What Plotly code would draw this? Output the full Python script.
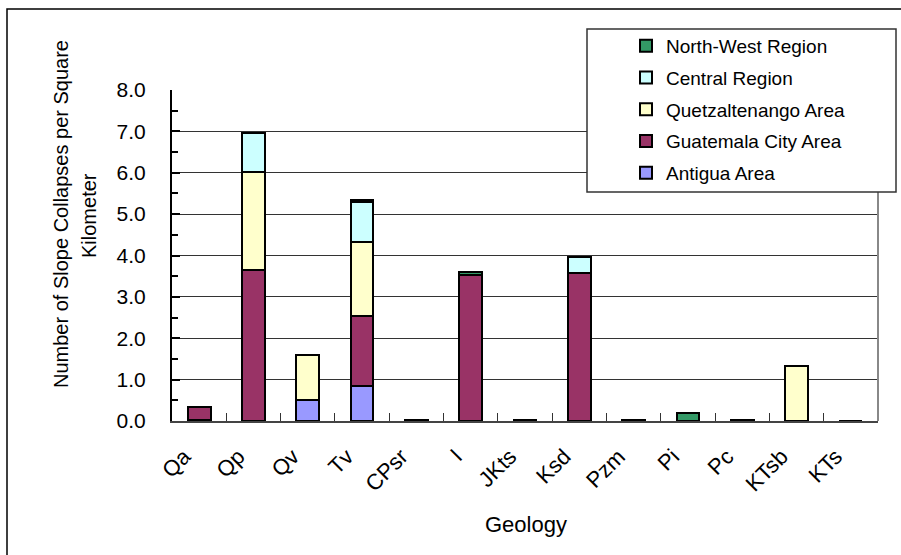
import plotly.graph_objects as go

# Geology units along the x axis
categories = ["Qa", "Qp", "Qv", "Tv", "CPsr", "I", "JKts", "Ksd", "Pzm", "Pi", "Pc", "KTsb", "KTs"]

# Slope collapses per square kilometre, by survey area (stacked bottom to top)
antigua = [0.03, 0, 0.50, 0.85, 0, 0, 0, 0, 0, 0, 0, 0, 0]
guatemala_city = [0.30, 3.65, 0, 1.69, 0, 3.54, 0, 3.57, 0, 0, 0, 0, 0]
quetzaltenango = [0, 2.37, 1.09, 1.78, 0, 0, 0, 0, 0, 0, 0, 1.34, 0]
central = [0, 0.93, 0, 0.98, 0, 0, 0, 0.40, 0, 0, 0, 0, 0]
north_west = [0, 0, 0, 0.03, 0.02, 0.05, 0.02, 0, 0.03, 0.20, 0.02, 0, 0]

series = [
    ("Antigua Area", antigua, "#9999FF"),
    ("Guatemala City Area", guatemala_city, "#993366"),
    ("Quetzaltenango Area", quetzaltenango, "#FFFFCC"),
    ("Central Region", central, "#CCFFFF"),
    ("North-West Region", north_west, "#339966"),
]

FONT = "Liberation Sans, Arial, sans-serif"

fig = go.Figure()
n = len(series)
for i, (name, vals, color) in enumerate(series):
    fig.add_trace(go.Bar(
        x=categories, y=vals, name=name, legendgroup=name,
        legendrank=n - i,  # top of the stack listed first
        marker=dict(color=color, line=dict(color="black", width=2)),
    ))

# plot area in pixels: x 172..878, y 90..421
L, R, T, B = 172, 878, 90, 421
W, H = R - L, B - T
def px(x):
    return (x - L) / W
def py(y):
    return (B - y) / H

fig.update_layout(
    width=901, height=555,
    margin=dict(l=L, r=901 - R, t=T, b=555 - B),
    paper_bgcolor="white", plot_bgcolor="white",
    barmode="stack", bargap=0.58,
    font=dict(family=FONT, size=20, color="black"),
    showlegend=True,
    legend=dict(
        x=px(626), y=py(27), xanchor="left", yanchor="top",
        bgcolor="rgba(0,0,0,0)", borderwidth=0,
        font=dict(family=FONT, size=19, color="black"),
        traceorder="grouped", tracegroupgap=4,
        itemwidth=30,
    ),
    xaxis=dict(
        type="category", tickangle=-45, tickson="boundaries",
        ticks="inside", ticklen=8, tickcolor="#333", tickwidth=1,
        showline=True, linecolor="#444", linewidth=2,
        showgrid=False, tickfont=dict(size=22),
        ticklabelstandoff=12, ticklabelshift=-15,
    ),
    yaxis=dict(
        range=[0, 8], dtick=1, tickformat=".1f",
        ticks="inside", ticklen=8, tickcolor="black", tickwidth=1.5,
        minor=dict(dtick=0.5, ticks="inside", ticklen=6, tickcolor="black", showgrid=False),
        showline=True, linecolor="black", linewidth=2,
        showgrid=True, gridcolor="#333", gridwidth=1,
        tickfont=dict(size=21), ticklabelstandoff=20,
        zeroline=False,
    ),
    shapes=[
        # outer chart frame
        dict(type="rect", xref="paper", yref="paper",
             x0=px(7), x1=px(910), y0=py(9), y1=py(570),
             line=dict(color="black", width=1.5), fillcolor="rgba(0,0,0,0)", layer="below"),
        # right edge of the plot area
        dict(type="line", xref="paper", yref="paper", x0=1, x1=1, y0=0, y1=1,
             line=dict(color="#888", width=2), layer="above"),
        # legend frame
        dict(type="rect", xref="paper", yref="paper",
             x0=px(587), x1=px(896), y0=py(192), y1=py(29),
             line=dict(color="#333", width=1.5), fillcolor="white", layer="above"),
    ],
    annotations=[
        dict(text="Number of Slope Collapses per Square", xref="paper", yref="paper",
             x=px(61), y=py(214), textangle=-90, showarrow=False,
             xanchor="center", yanchor="middle", font=dict(size=20)),
        dict(text="Kilometer", xref="paper", yref="paper",
             x=px(89), y=py(216), textangle=-90, showarrow=False,
             xanchor="center", yanchor="middle", font=dict(size=20)),
        dict(text="Geology", xref="paper", yref="paper",
             x=px(526), y=py(524), showarrow=False,
             xanchor="center", yanchor="middle", font=dict(size=22)),
    ],
)

fig.write_html("out.html")
